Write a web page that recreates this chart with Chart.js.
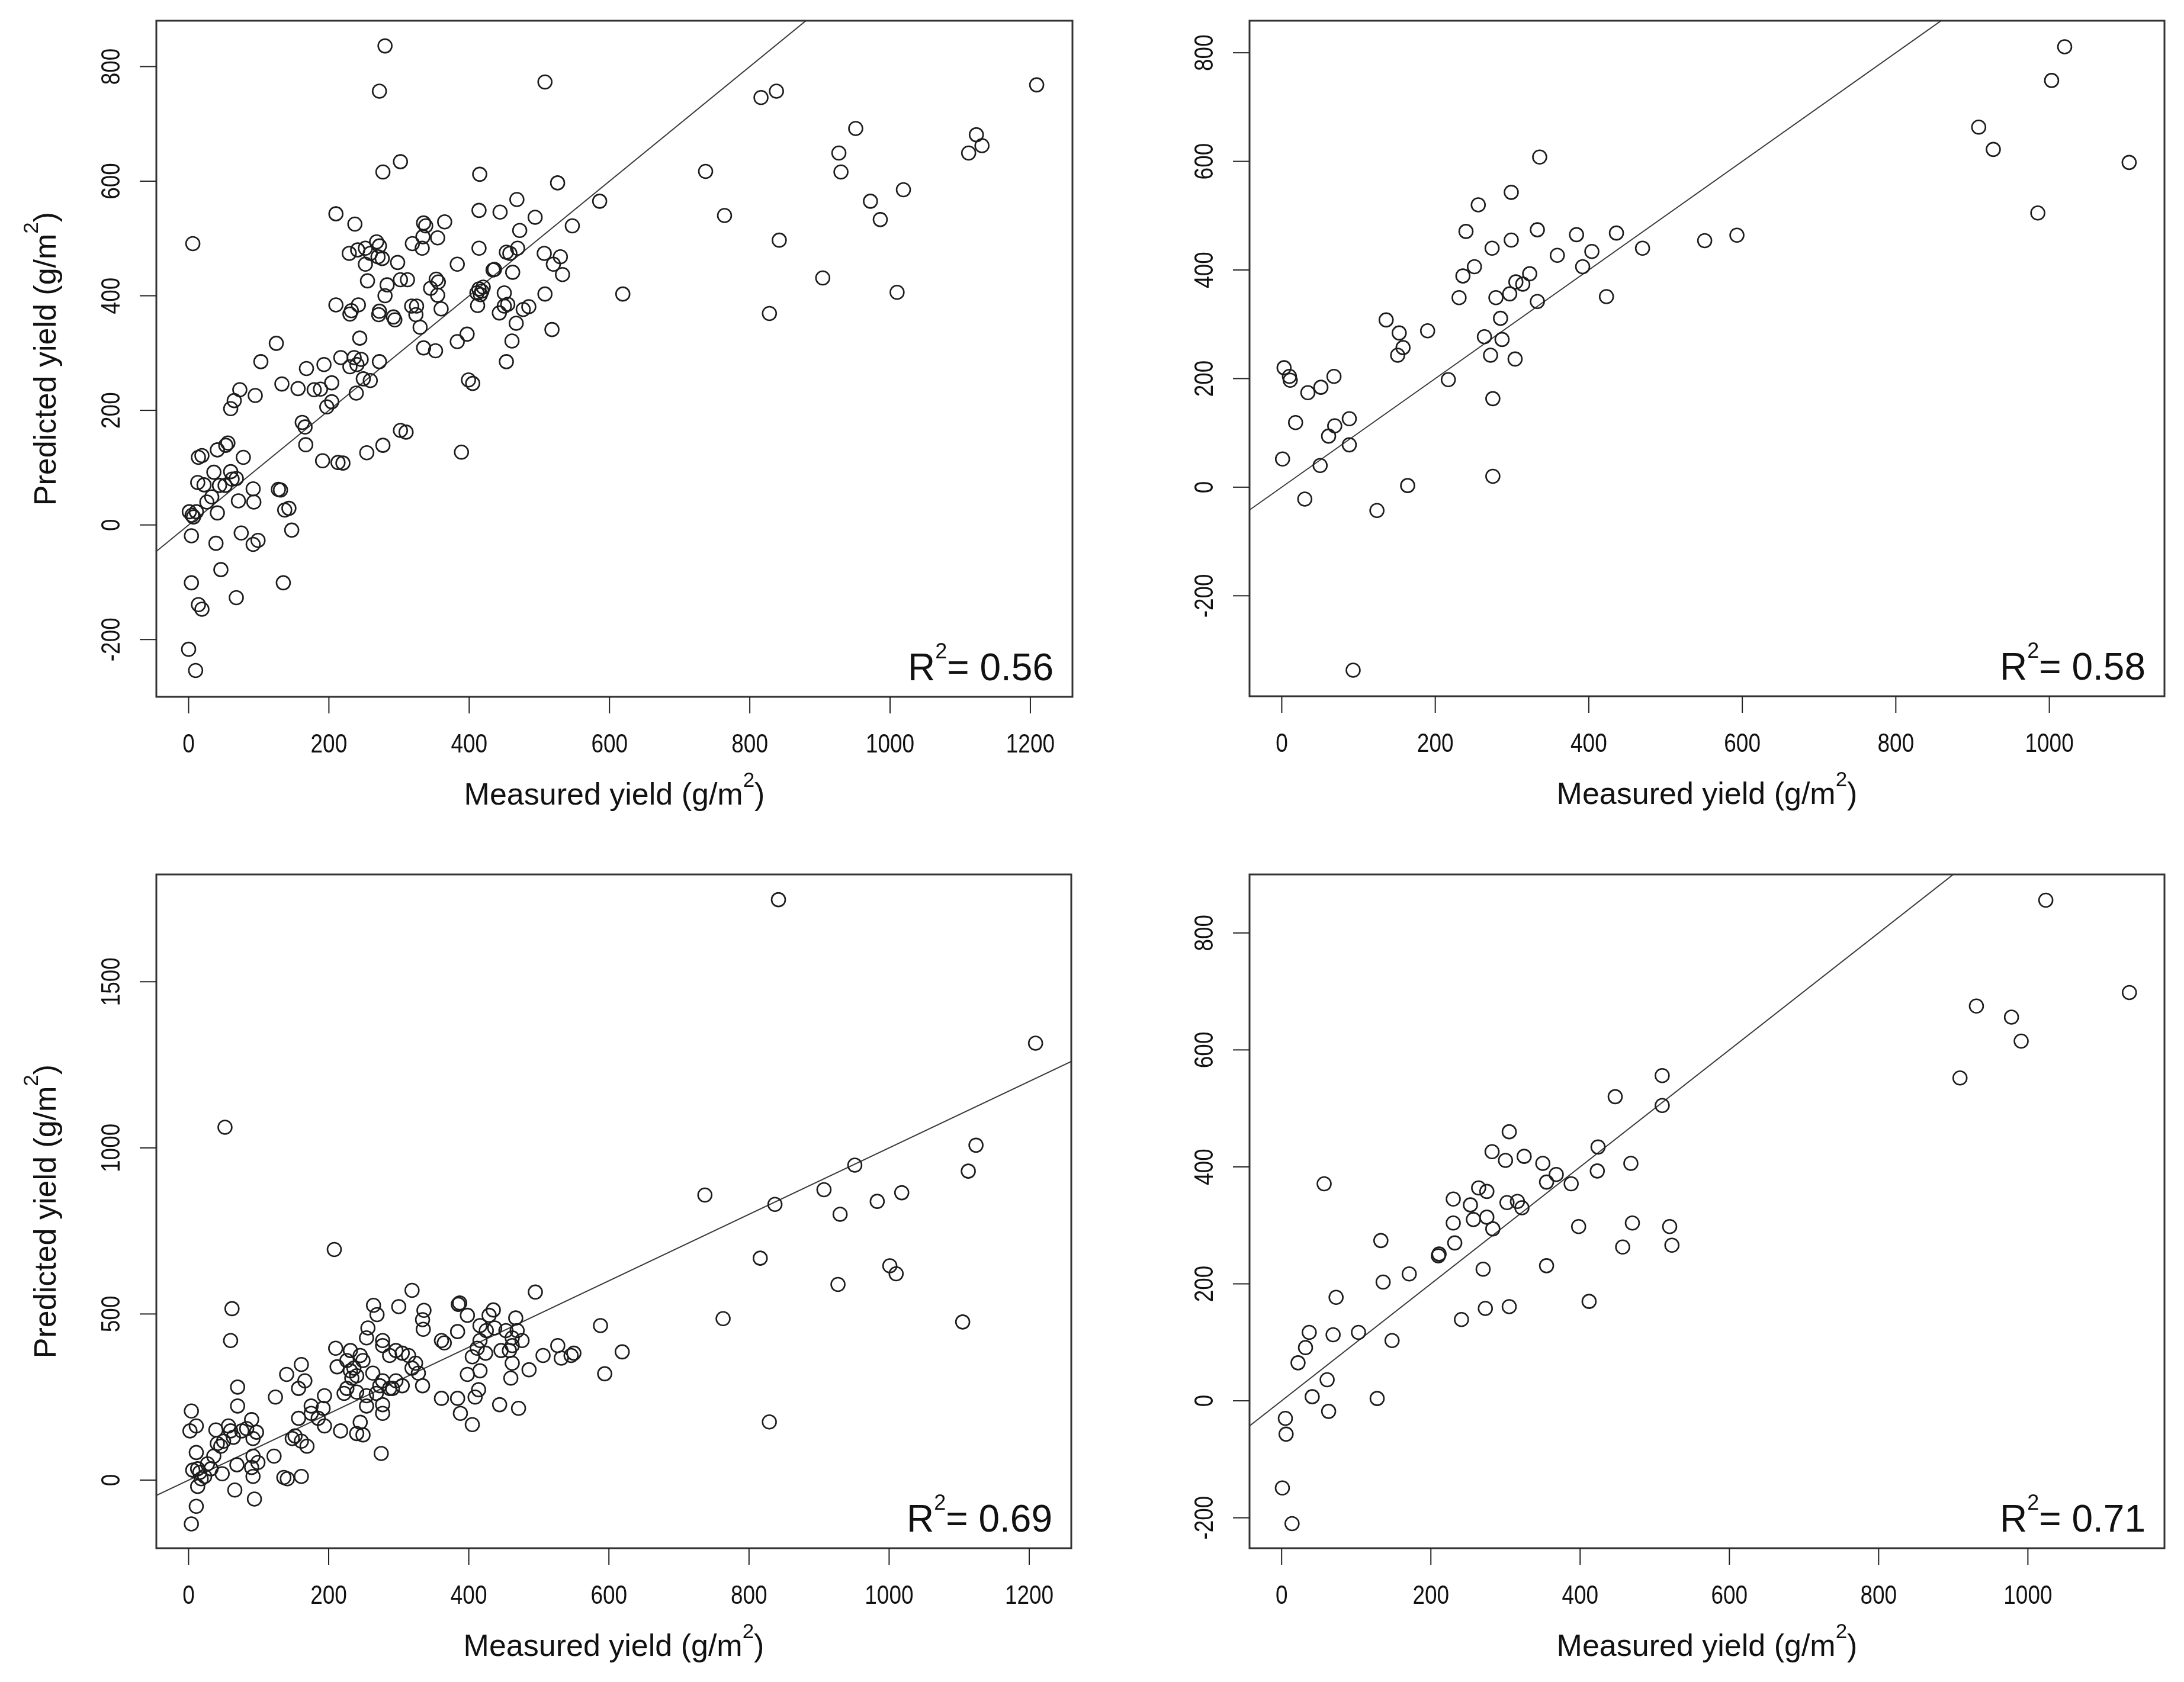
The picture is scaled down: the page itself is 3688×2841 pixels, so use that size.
<!DOCTYPE html>
<html>
<head>
<meta charset="utf-8">
<script src="https://cdn.jsdelivr.net/npm/chart.js@4.4.1/dist/chart.umd.min.js"></script>
<style>
  html, body { margin: 0; padding: 0; background: #fff; }
  #page { position: relative; width: 3688px; height: 2841px; background: #fff; overflow: hidden; }
  #page canvas { position: absolute; }
</style>
</head>
<body>
<div id="page">
  <canvas id="panelA" width="1844" height="1420" style="left:0px;top:0px"></canvas>
  <canvas id="panelB" width="1844" height="1420" style="left:1844px;top:0px"></canvas>
  <canvas id="panelC" width="1844" height="1421" style="left:0px;top:1420px"></canvas>
  <canvas id="panelD" width="1844" height="1421" style="left:1844px;top:1420px"></canvas>
</div>
<script>
// =================== DATA ===================
// top-left panel
const measuredA = [
  280, 272, 508, 816, 838, 1209, 951, 927, 930, 1123,
  1131, 1112, 737, 1019, 972, 986, 764, 842, 904, 1010,
  619, 828, 302, 277, 415, 526, 586, 6, 210, 237,
  414, 468, 444, 494, 335, 338, 365, 472, 547, 469,
  458, 414, 383, 436, 462, 507, 530, 520, 533, 508,
  518, 334, 319, 333, 298, 302, 312, 229, 241, 268,
  272, 252, 259, 252, 255, 283, 280, 276, 270, 355,
  353, 356, 345, 355, 360, 325, 318, 324, 330, 292,
  294, 271, 272, 210, 242, 232, 230, 244, 272, 246,
  240, 236, 249, 259, 239, 217, 230, 193, 204, 188,
  179, 204, 197, 168, 156, 133, 125, 103, 95, 73,
  65, 60, 162, 166, 167, 191, 213, 220, 254, 277,
  302, 310, 389, 335, 352, 383, 397, 399, 405, 453,
  461, 467, 485, 443, 450, 414, 418, 411, 420, 416,
  412, 450, 455, 477, 434, 453, 14, 19, 13, 22,
  36, 41, 53, 56, 60, 62, 68, 78, 52, 44,
  33, 26, 71, 92, 93, 128, 131, 137, 143, 147,
  41, 11, 5, 1, 7, 4, 39, 75, 92, 99,
  46, 68, 4, 135, 14, 19, 0, 10
];
const predictedA = [
  836, 757, 773, 746, 757, 768, 692, 649, 616, 681,
  662, 649, 617, 585, 565, 533, 540, 497, 431, 406,
  403, 369, 634, 616, 612, 597, 565, 491, 543, 525,
  549, 568, 546, 537, 527, 522, 529, 514, 522, 483,
  474, 483, 455, 446, 441, 474, 468, 455, 437, 403,
  341, 503, 491, 483, 458, 428, 428, 474, 480, 494,
  487, 483, 474, 455, 426, 419, 400, 465, 468, 501,
  429, 424, 413, 401, 377, 382, 382, 367, 345, 363,
  358, 367, 373, 384, 384, 374, 368, 326, 285, 289,
  280, 292, 255, 252, 230, 292, 276, 280, 248, 237,
  236, 215, 206, 273, 238, 246, 317, 285, 226, 236,
  217, 203, 179, 171, 140, 112, 109, 108, 126, 139,
  165, 162, 127, 309, 304, 320, 333, 253, 247, 285,
  321, 352, 381, 370, 382, 412, 408, 405, 415, 402,
  383, 405, 385, 376, 445, 476, 118, 121, 74, 70,
  92, 131, 139, 143, 93, 80, 81, 118, 69, 69,
  49, 40, 42, 63, 40, 62, 61, 26, 29, -9,
  21, 23, 17, 23, 14, -19, -32, -14, -34, -27,
  -78, -127, -101, -101, -139, -147, -217, -254
];

// top-right panel
const measuredB = [
  336, 299, 256, 240, 274, 299, 333, 384, 436, 359,
  404, 470, 392, 251, 236, 231, 279, 297, 305, 314,
  323, 333, 423, 285, 264, 287, 272, 304, 217, 275,
  275, 136, 153, 158, 151, 190, 3, 10, 11, 34,
  51, 68, 18, 69, 61, 88, 88, 50, 1, 30,
  124, 164, 93, 1020, 1003, 908, 927, 1104, 985, 551,
  593
];
const predictedB = [
  608, 543, 520, 471, 440, 455, 474, 465, 468, 427,
  434, 440, 406, 406, 389, 349, 349, 356, 378, 374,
  393, 342, 351, 311, 277, 272, 243, 236, 198, 163,
  20, 308, 284, 257, 243, 288, 220, 204, 197, 174,
  184, 204, 119, 113, 94, 126, 78, 40, 52, -22,
  -43, 3, -337, 811, 749, 663, 622, 598, 505, 454,
  464
];

// bottom-left panel
const measuredC = [
  208, 62, 60, 319, 495, 588, 619, 594, 264, 269,
  300, 336, 334, 335, 387, 385, 435, 429, 467, 416,
  437, 384, 361, 365, 469, 476, 462, 416, 412, 424,
  446, 506, 527, 532, 550, 546, 462, 486, 460, 405,
  416, 398, 414, 409, 361, 384, 388, 405, 444, 471,
  334, 324, 314, 296, 277, 256, 254, 231, 210, 245,
  212, 231, 240, 263, 277, 291, 305, 273, 254, 240,
  222, 254, 277, 194, 192, 175, 157, 194, 217, 245,
  240, 249, 275, 161, 140, 166, 157, 124, 70, 70,
  4, 11, 2, 39, 57, 76, 90, 97, 64, 46,
  11, 36, 92, 122, 69, 90, 99, 48, 6, 16,
  23, 13, 92, 136, 161, 141, 148, 169, 66, 94,
  11, 4, 52, 842, 1209, 1124, 1113, 951, 907, 837,
  737, 930, 983, 1018, 816, 1001, 1010, 927, 763, 1105,
  829, 226, 236, 249, 277, 287, 305, 319, 328, 287,
  296, 268, 233, 226, 277, 13, 27, 41, 50, 60,
  83, 92, 18, 32, 175, 185, 152, 161, 398, 453,
  462, 425, 458
];
const predictedC = [
  694, 516, 420, 571, 566, 465, 386, 320, 526, 498,
  522, 511, 483, 454, 533, 529, 512, 496, 488, 465,
  458, 447, 420, 413, 450, 420, 405, 420, 397, 382,
  390, 375, 405, 367, 382, 375, 352, 332, 307, 371,
  329, 318, 272, 250, 246, 246, 201, 167, 227, 216,
  284, 352, 375, 390, 420, 458, 428, 390, 397, 375,
  341, 329, 314, 322, 299, 276, 284, 284, 254, 265,
  261, 223, 227, 254, 216, 201, 186, 163, 148, 174,
  140, 136, 80, 348, 318, 299, 276, 250, 280, 223,
  208, 163, 148, 151, 163, 148, 182, 144, 129, 102,
  83, 72, 72, 72, 46, 38, 53, 19, 30, 23,
  11, -19, 11, 8, 11, 4, 125, 102, -30, -57,
  -79, -132, 1062, 1747, 1315, 1008, 930, 948, 874, 830,
  858, 800, 839, 865, 668, 645, 621, 589, 486, 476,
  175, 360, 337, 360, 405, 375, 382, 337, 322, 276,
  299, 261, 307, 276, 201, 34, 49, 110, 117, 148,
  155, 125, 4, 34, 223, 186, 133, 117, 496, 450,
  428, 450, 390
];

// bottom-right panel
const measuredD = [
  510, 447, 510, 305, 282, 300, 325, 350, 368, 355,
  388, 424, 423, 468, 264, 275, 230, 253, 302, 316,
  322, 275, 257, 283, 230, 232, 210, 211, 133, 171,
  136, 270, 355, 398, 470, 520, 523, 457, 412, 305,
  273, 241, 57, 73, 37, 69, 103, 148, 32, 22,
  61, 41, 63, 128, 5, 6, 1, 14, 1024, 1136,
  931, 978, 991, 909
];
const predictedD = [
  556, 520, 505, 460, 426, 411, 418, 406, 387, 374,
  371, 434, 393, 406, 364, 358, 345, 335, 339, 341,
  330, 314, 310, 294, 304, 270, 248, 251, 274, 217,
  203, 225, 231, 298, 304, 298, 266, 263, 170, 161,
  158, 139, 371, 177, 117, 113, 117, 103, 91, 65,
  36, 7, -18, 4, -30, -57, -149, -210, 856, 698,
  675, 656, 615, 552
];

// axis ranges and tick labels
const xRangeA = [-46, 1260], yRangeA = [-300, 880];
const xRangeB = [-42, 1150], yRangeB = [-385, 859];
const xRangeC = [-46, 1260], yRangeC = [-205, 1823];
const xRangeD = [-43, 1183], yRangeD = [-252, 900];
const xTicksWide = [0, 200, 400, 600, 800, 1000, 1200];
const xTicksNarrow = [0, 200, 400, 600, 800, 1000];
const yTicksYield = [-200, 0, 200, 400, 600, 800];
const yTicksTall = [0, 500, 1000, 1500];
const r2Values = ['0.56', '0.58', '0.69', '0.71'];
const oneToOne = [-300, 1900]; // ends of the y = x reference line

// =================== DRAWING HELPERS ===================
const FONT = '"Liberation Sans", Arial, Helvetica, sans-serif';
const INK = '#111';

function narrowText(ctx, text, x, y, rotated) {
  ctx.save();
  ctx.translate(x, y);
  if (rotated) ctx.rotate(-Math.PI / 2);
  ctx.scale(0.84, 1);
  ctx.font = '44px ' + FONT;
  ctx.textAlign = 'center';
  ctx.textBaseline = 'alphabetic';
  ctx.fillText(text, 0, 0);
  ctx.restore();
}

// title like "Measured yield (g/m²)" with a raised 2
function supTitle(ctx, head, x, y, rotated) {
  const big = '52px ' + FONT, small = '35px ' + FONT;
  ctx.save();
  ctx.translate(x, y);
  if (rotated) ctx.rotate(-Math.PI / 2);
  ctx.textAlign = 'left';
  ctx.textBaseline = 'alphabetic';
  ctx.font = big;
  const w1 = ctx.measureText(head).width;
  const w3 = ctx.measureText(')').width;
  ctx.font = small;
  const w2 = ctx.measureText('2').width;
  let cx = -(w1 + w2 + w3) / 2;
  ctx.font = big;   ctx.fillText(head, cx, 0); cx += w1;
  ctx.font = small; ctx.fillText('2', cx, -30); cx += w2;
  ctx.font = big;   ctx.fillText(')', cx, 0);
  ctx.restore();
}

function r2Label(ctx, value, right, baseline) {
  const big = '64px ' + FONT, small = '36px ' + FONT;
  ctx.save();
  ctx.textAlign = 'left';
  ctx.textBaseline = 'alphabetic';
  ctx.font = big;
  const wR = ctx.measureText('R').width;
  const wRest = ctx.measureText('= ' + value).width;
  ctx.font = small;
  const w2 = ctx.measureText('2').width;
  let cx = right - (wR + w2 + wRest);
  ctx.font = big;   ctx.fillText('R', cx, baseline); cx += wR;
  ctx.font = small; ctx.fillText('2', cx, baseline - 37); cx += w2;
  ctx.font = big;   ctx.fillText('= ' + value, cx, baseline);
  ctx.restore();
}

// R-style box, outward ticks, rotated y labels, titles
function framePlugin(cfg) {
  return {
    id: 'rframe',
    afterDraw(chart) {
      const ctx = chart.ctx;
      const a = chart.chartArea;
      const xs = chart.scales.x, ys = chart.scales.y;
      ctx.save();
      ctx.fillStyle = INK;

      ctx.strokeStyle = '#333';
      ctx.lineWidth = 3;
      ctx.strokeRect(a.left, a.top, a.right - a.left, a.bottom - a.top);

      ctx.strokeStyle = '#222';
      ctx.lineWidth = 2;
      cfg.xTicks.forEach(v => {
        const px = xs.getPixelForValue(v);
        ctx.beginPath();
        ctx.moveTo(px, a.bottom);
        ctx.lineTo(px, a.bottom + 28);
        ctx.stroke();
        narrowText(ctx, String(v), px, a.bottom + 94, false);
      });
      cfg.yTicks.forEach(v => {
        const py = ys.getPixelForValue(v);
        ctx.beginPath();
        ctx.moveTo(a.left, py);
        ctx.lineTo(a.left - 28, py);
        ctx.stroke();
        narrowText(ctx, String(v), a.left - 62, py, true);
      });

      const midX = (a.left + a.right) / 2;
      const midY = (a.top + a.bottom) / 2;
      supTitle(ctx, 'Measured yield (g/m', midX, a.bottom + 182, false);
      if (cfg.yTitle) supTitle(ctx, 'Predicted yield (g/m', a.left - 170, midY, true);

      r2Label(ctx, cfg.r2, a.right - 32, a.bottom - 28);
      ctx.restore();
    }
  };
}

// =================== CHARTS ===================
function createPanel(canvasId, xs, ys, xRange, yRange, xTicks, yTicks, yTitle, r2, padding) {
  const points = xs.map((x, i) => ({ x: x, y: ys[i] }));
  new Chart(document.getElementById(canvasId), {
    type: 'scatter',
    data: {
      datasets: [
        {
          data: points,
          pointStyle: 'circle',
          pointRadius: 11.5,
          pointHoverRadius: 11.5,
          pointBorderWidth: 2.6,
          pointBorderColor: '#1c1c1c',
          pointBackgroundColor: 'rgba(0,0,0,0)'
        },
        {
          type: 'line',
          data: oneToOne.map(v => ({ x: v, y: v })),
          borderColor: '#3a3a3a',
          borderWidth: 2,
          pointRadius: 0,
          fill: false
        }
      ]
    },
    options: {
      responsive: false,
      animation: false,
      devicePixelRatio: 1,
      layout: { padding: padding },
      scales: {
        x: { type: 'linear', bounds: 'data', min: xRange[0], max: xRange[1], display: false },
        y: { type: 'linear', bounds: 'data', min: yRange[0], max: yRange[1], display: false }
      },
      plugins: {
        legend: { display: false },
        tooltip: { enabled: false }
      }
    },
    plugins: [framePlugin({ xTicks: xTicks, yTicks: yTicks, yTitle: yTitle, r2: r2 })]
  });
}

createPanel('panelA', measuredA, predictedA, xRangeA, yRangeA, xTicksWide, yTicksYield, true, r2Values[0],
  { left: 264, top: 35, right: 33, bottom: 243 });
createPanel('panelB', measuredB, predictedB, xRangeB, yRangeB, xTicksNarrow, yTicksYield, false, r2Values[1],
  { left: 266, top: 35, right: 33, bottom: 244 });
createPanel('panelC', measuredC, predictedC, xRangeC, yRangeC, xTicksWide, yTicksTall, true, r2Values[2],
  { left: 264, top: 57, right: 35, bottom: 226 });
createPanel('panelD', measuredD, predictedD, xRangeD, yRangeD, xTicksNarrow, yTicksYield, false, r2Values[3],
  { left: 266, top: 57, right: 33, bottom: 226 });
</script>
</body>
</html>
